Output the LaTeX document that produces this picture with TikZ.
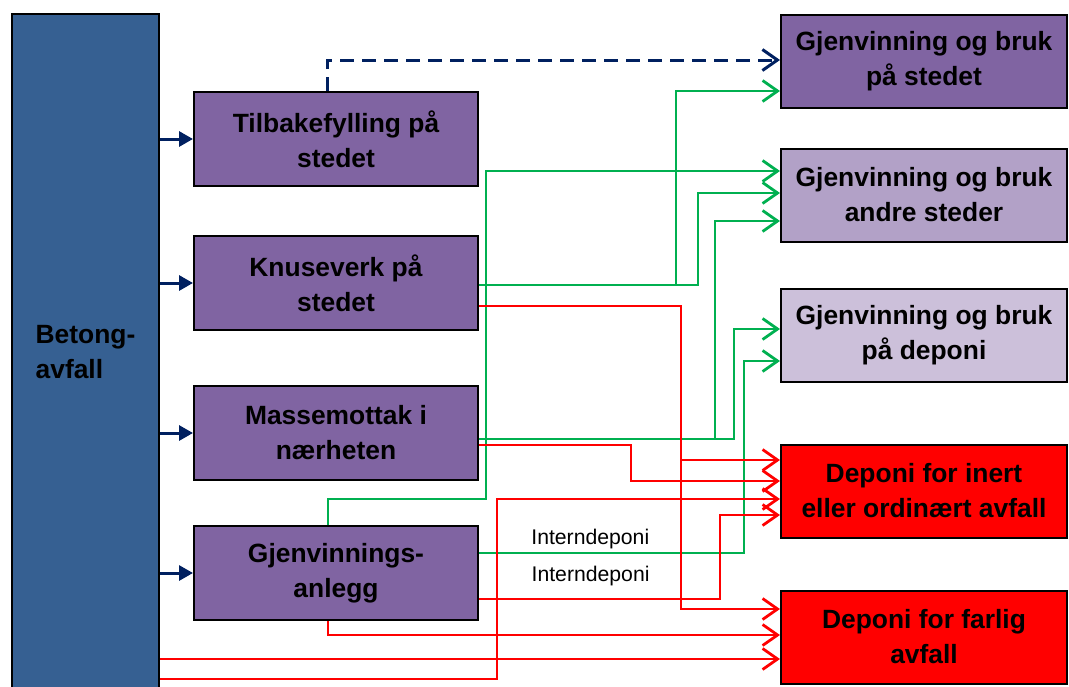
\documentclass[tikz,border=0pt]{standalone}
\usepackage{fontspec}
\setmainfont{Liberation Sans}
\usetikzlibrary{arrows.meta}

\definecolor{betongblaa}{RGB}{54,96,146}
\definecolor{lilla}{RGB}{128,100,162}
\definecolor{lyslilla}{RGB}{178,161,199}
\definecolor{bleklilla}{RGB}{204,192,218}
\definecolor{marine}{RGB}{0,32,96}
\definecolor{gronn}{RGB}{0,176,80}

\tikzset{
  boks/.style={draw=black, line width=1pt, inner sep=0pt, align=center,
    minimum width=142pt, minimum height=47pt,
    font=\fontsize{13.2}{17.5}\selectfont\bfseries},
  maal/.style={boks, minimum width=143pt, minimum height=46.5pt},
  etikett/.style={inner sep=0pt, text=black, font=\fontsize{10.6}{12}\selectfont},
  inn/.style={marine, line width=1.5pt, -{Triangle[length=7pt,width=7.5pt]}},
  gpil/.style={gronn, line width=1.4pt, -{Straight Barb[length=7.5pt,width=10.5pt]}},
  rpil/.style={red, line width=1.4pt, -{Straight Barb[length=7.5pt,width=10.5pt]}},
}

\begin{document}
\begin{tikzpicture}[x=0.5pt,y=-0.5pt]
\useasboundingbox (0,0) rectangle (1069,686);

% kilde
\node[boks, fill=betongblaa, minimum width=73.5pt, minimum height=338pt, align=left]
  (betong) at (85.5,352) {Betong-\\avfall\hspace*{7pt}};

% behandling
\node[boks, fill=lilla] (tilb) at (336,139) {Tilbakefylling på\\stedet};
\node[boks, fill=lilla] (knus) at (336,283) {Knuseverk på\\stedet};
\node[boks, fill=lilla] (mass) at (336,433) {Massemottak i\\nærheten};
\node[boks, fill=lilla] (gjenv) at (336,573) {Gjenvinnings-\\anlegg};

% sluttbruk
\node[maal, fill=lilla] (stedet) at (924,61) {Gjenvinning og bruk\\på stedet};
\node[maal, fill=lyslilla] (andre) at (924,195) {Gjenvinning og bruk\\andre steder};
\node[maal, fill=bleklilla] (deponi) at (924,335) {Gjenvinning og bruk\\på deponi};
\node[maal, fill=red] (inert) at (924,491) {Deponi for inert\\eller ordinært avfall};
\node[maal, fill=red] (farlig) at (924,637) {Deponi for farlig\\avfall};

% fra betongavfall
\draw[inn] (betong.east |- tilb.west) -- (tilb.west);
\draw[inn] (betong.east |- knus.west) -- (knus.west);
\draw[inn] (betong.east |- mass.west) -- (mass.west);
\draw[inn] (betong.east |- gjenv.west) -- (gjenv.west);
\draw[marine, line width=1.5pt, dash pattern=on 7pt off 4pt,
  -{Straight Barb[length=7.5pt,width=10.5pt]}]
  ([xshift=-4.5pt]tilb.north) |- (stedet.west |- 0,60);

% gjenvinning
\draw[gpil] (knus.east |- 0,285) -| (676,91) -- (stedet.west |- 0,91);
\draw[gpil] (knus.east |- 0,285) -| (698,193) -- (andre.west |- 0,193);
\draw[gpil] ([xshift=-4pt]gjenv.north) |- (486,499) |- (andre.west |- 0,171);
\draw[gpil] (mass.east |- 0,439) -| (715,221) -- (andre.west |- 0,221);
\draw[gpil] (mass.east |- 0,439) -| (734,329) -- (deponi.west |- 0,329);
\draw[gpil] (gjenv.east |- 0,553)
  -- node[etikett, pos=0.42, above=1.5pt] {Interndeponi} (744,553)
  -- (744,361) -- (deponi.west |- 0,361);

% deponi
\draw[rpil] (knus.east |- 0,306) -| (681,460) -- (inert.west |- 0,460);
\draw[rpil] (knus.east |- 0,306) -| (681,609) -- (farlig.west |- 0,609);
\draw[rpil] (mass.east |- 0,445) -| (631,481) -- (inert.west |- 0,481);
\draw[rpil] (betong.east |- 0,679) -| (497,499) -- (inert.west |- 0,499);
\draw[rpil] (gjenv.east |- 0,599)
  -- node[etikett, pos=0.463, above=6pt] {Interndeponi} (720,599)
  -- (720,515) -- (inert.west |- 0,515);
\draw[rpil] ([xshift=-4pt]gjenv.south) |- (farlig.west |- 0,635);
\draw[rpil] (betong.east |- 0,659) -- (farlig.west |- 0,659);
\end{tikzpicture}
\end{document}
